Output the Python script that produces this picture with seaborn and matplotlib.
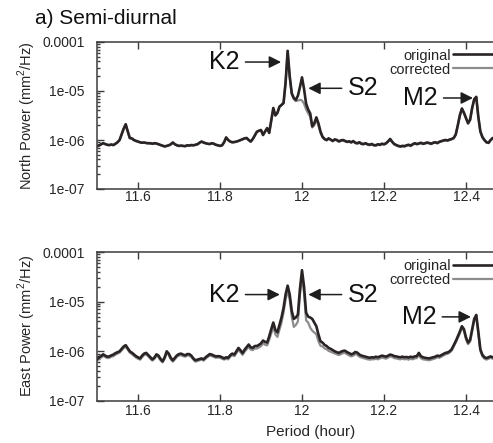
import numpy as np
import matplotlib
matplotlib.use("Agg")
import matplotlib.pyplot as plt
from matplotlib.ticker import LogLocator, NullLocator, NullFormatter
from matplotlib.lines import Line2D
import seaborn as sns

# ---------------------------------------------------------------------------
# Spectral power (units of 1e-7 mm^2/Hz), sampled every 0.005 h from 11.500 h
# ---------------------------------------------------------------------------
POWER_UNIT = 1e-7
period_start = 11.5
period_step = 0.005

north_original = [
    7.4, 7.8, 8.2, 8.6, 8.3, 8.0, 7.9, 8.1, 7.9, 8.4,
    9.0, 10.0, 13.0, 17.0, 21.0, 15.0, 11.0, 10.8, 10.0, 9.6,
    9.3, 9.0, 8.8, 8.9, 8.7, 8.6, 8.6, 8.4, 8.6, 8.5,
    8.2, 7.9, 7.6, 7.4, 7.6, 7.8, 8.2, 8.9, 8.2, 7.8,
    7.6, 7.7, 7.6, 7.5, 7.8, 7.7, 7.9, 7.8, 8.0, 8.2,
    8.8, 9.3, 8.9, 8.6, 8.4, 8.3, 8.6, 8.4, 8.0, 7.8,
    7.6, 7.8, 9.0, 11.3, 10.0, 9.3, 9.0, 9.1, 9.3, 9.6,
    10.0, 10.4, 10.8, 11.0, 10.0, 9.3, 10.5, 12.5, 14.8, 15.5,
    16.0, 12.7, 15.0, 17.5, 14.0, 25.0, 45.0, 32.0, 36.0, 48.0,
    52.0, 57.0, 150.0, 660.0, 200.0, 90.0, 72.0, 66.0, 80.0, 120.0,
    190.0, 110.0, 55.0, 42.0, 35.0, 19.0, 22.0, 29.0, 22.0, 15.0,
    11.7, 10.5, 10.0, 10.8, 10.2, 9.6, 10.3, 10.0, 9.4, 9.8,
    10.0, 9.6, 9.2, 9.4, 9.0, 9.5, 8.8, 8.6, 9.0, 8.4,
    8.3, 8.6, 8.2, 8.0, 8.3, 7.9, 7.8, 8.2, 8.0, 8.4,
    8.2, 8.6, 9.4, 10.5, 9.2, 8.3, 7.9, 7.6, 7.4, 7.6,
    7.5, 7.8, 8.0, 7.7, 8.2, 8.6, 8.3, 8.5, 8.8, 8.4,
    8.6, 8.9, 8.7, 8.4, 8.8, 9.0, 8.7, 9.2, 9.5, 9.8,
    10.0, 9.8, 10.2, 10.5, 11.0, 13.0, 20.0, 32.0, 44.0, 36.0,
    28.0, 22.0, 26.0, 45.0, 68.0, 76.0, 30.0, 15.0, 11.5, 10.0,
    9.0, 8.8, 10.0, 11.0, 11.0,
]

north_corrected = [
    7.3, 7.7, 8.1, 8.5, 8.2, 7.9, 7.8, 8.0, 7.8, 8.3,
    8.9, 9.9, 12.8, 16.8, 20.6, 14.8, 10.9, 10.6, 9.9, 9.5,
    9.2, 8.9, 8.7, 8.8, 8.6, 8.5, 8.5, 8.3, 8.5, 8.4,
    8.1, 7.8, 7.5, 7.3, 7.5, 7.7, 8.1, 8.8, 8.1, 7.7,
    7.5, 7.6, 7.5, 7.4, 7.7, 7.6, 7.8, 7.7, 7.9, 8.1,
    8.7, 9.2, 8.8, 8.5, 8.3, 8.2, 8.5, 8.3, 7.9, 7.7,
    7.5, 7.7, 8.9, 11.1, 9.9, 9.2, 8.9, 9.0, 9.2, 9.5,
    9.9, 10.3, 10.7, 10.9, 9.9, 9.2, 10.4, 12.3, 14.5, 15.2,
    15.7, 12.5, 14.7, 17.2, 13.8, 24.5, 44.0, 31.0, 35.0, 47.0,
    51.0, 56.0, 148.0, 650.0, 195.0, 85.0, 68.0, 62.0, 64.0, 66.0,
    64.0, 55.0, 42.0, 35.0, 30.0, 18.0, 20.0, 26.0, 20.0, 14.0,
    11.3, 10.3, 9.8, 10.6, 10.0, 9.4, 10.1, 9.8, 9.2, 9.6,
    9.8, 9.4, 9.0, 9.2, 8.8, 9.3, 8.6, 8.4, 8.8, 8.2,
    8.1, 8.4, 8.0, 7.8, 8.1, 7.7, 7.6, 8.0, 7.8, 8.2,
    8.0, 8.4, 9.2, 10.3, 9.0, 8.1, 7.7, 7.4, 7.2, 7.4,
    7.3, 7.6, 7.8, 7.5, 8.0, 8.4, 8.1, 8.3, 8.6, 8.2,
    8.4, 8.7, 8.5, 8.2, 8.6, 8.8, 8.5, 9.0, 9.3, 9.6,
    9.8, 9.6, 10.0, 10.3, 10.8, 12.7, 19.6, 31.0, 43.0, 35.0,
    27.5, 21.5, 25.5, 44.0, 67.0, 75.0, 29.5, 14.7, 11.3, 9.8,
    8.8, 8.6, 9.8, 10.8, 10.8,
]

east_original = [
    6.9, 7.6, 8.0, 8.7, 8.2, 7.8, 7.9, 8.3, 8.6, 9.2,
    9.6, 10.0, 11.2, 12.5, 13.3, 11.5, 10.0, 9.4, 8.7, 8.0,
    7.6, 7.2, 8.2, 9.0, 9.3, 8.4, 7.6, 6.9, 7.5, 8.7,
    8.2, 7.0, 6.3, 7.6, 10.0, 9.0, 7.4, 6.6, 7.4, 8.3,
    8.8, 9.0, 8.6, 8.3, 8.8, 8.8, 8.2, 7.2, 6.6, 6.8,
    7.0, 7.2, 6.9, 7.6, 8.2, 8.8, 8.6, 8.2, 7.9, 8.0,
    7.9, 7.6, 7.2, 7.6, 7.4, 8.4, 9.0, 8.6, 10.0, 11.7,
    10.5, 9.2, 10.8, 12.2, 13.7, 12.0, 11.8, 12.8, 12.8, 13.5,
    14.5, 16.5, 15.5, 15.0, 20.0, 28.0, 38.0, 27.0, 24.0, 34.0,
    48.0, 75.0, 140.0, 210.0, 140.0, 65.0, 45.0, 48.0, 55.0, 180.0,
    430.0, 200.0, 60.0, 50.0, 48.0, 45.0, 38.0, 32.0, 22.0, 16.0,
    15.0, 13.5, 12.8, 11.7, 11.2, 10.6, 10.0, 9.6, 9.3, 9.8,
    10.2, 10.3, 9.6, 9.2, 8.7, 9.0, 9.7, 9.4, 8.6, 8.2,
    8.0, 7.8, 7.6, 7.4, 7.6, 7.5, 7.8, 7.6, 7.9, 8.2,
    8.0, 7.8, 8.2, 8.6, 8.4, 8.0, 7.9, 7.7, 7.6, 7.8,
    7.6, 7.7, 7.5, 7.8, 7.6, 7.9, 8.0, 9.3, 8.0, 7.6,
    7.4, 7.3, 7.2, 7.4, 7.6, 7.8, 8.2, 8.0, 8.4, 8.8,
    9.3, 9.5, 10.0, 11.0, 13.3, 16.0, 20.0, 25.0, 32.0, 28.0,
    19.0, 15.0, 17.0, 28.0, 45.0, 54.0, 25.0, 11.0, 8.5, 7.6,
    7.3, 7.6, 7.9, 7.6, 7.8,
]

east_corrected = [
    6.5, 7.1, 7.5, 8.1, 7.7, 7.3, 7.4, 7.8, 8.0, 8.6,
    9.0, 9.4, 10.4, 11.6, 12.4, 10.8, 9.4, 8.8, 8.1, 7.5,
    7.1, 6.8, 7.6, 8.4, 8.7, 7.9, 7.1, 6.5, 7.0, 8.1,
    7.6, 6.6, 6.0, 7.1, 9.3, 8.4, 6.9, 6.2, 6.9, 7.8,
    8.2, 8.4, 8.0, 7.8, 8.2, 8.2, 7.7, 6.8, 6.2, 6.4,
    6.6, 6.8, 6.5, 7.1, 7.7, 8.2, 8.0, 7.7, 7.4, 7.5,
    7.4, 7.1, 6.8, 7.1, 6.9, 7.8, 8.3, 8.0, 9.2, 10.6,
    9.6, 8.5, 9.8, 11.0, 12.3, 10.8, 10.6, 11.4, 11.4, 12.0,
    12.8, 14.5, 13.6, 13.2, 17.0, 23.0, 31.0, 22.0, 19.5, 27.0,
    38.0, 60.0, 110.0, 170.0, 110.0, 50.0, 31.0, 34.0, 40.0, 135.0,
    320.0, 150.0, 42.0, 38.0, 30.0, 26.0, 24.0, 22.0, 16.0, 13.0,
    12.5, 11.5, 11.0, 10.2, 9.8, 9.4, 9.0, 8.7, 8.4, 8.8,
    9.2, 9.3, 8.7, 8.3, 7.9, 8.2, 8.8, 8.5, 7.8, 7.5,
    7.3, 7.1, 6.9, 6.8, 6.9, 6.9, 7.1, 6.9, 7.2, 7.5,
    7.3, 7.1, 7.5, 7.9, 7.7, 7.3, 7.2, 7.0, 6.9, 7.1,
    6.9, 7.0, 6.8, 7.1, 6.9, 7.2, 7.3, 8.5, 7.3, 6.9,
    6.8, 6.7, 6.6, 6.8, 7.0, 7.2, 7.6, 7.4, 7.8, 8.2,
    8.7, 8.9, 9.4, 10.3, 12.4, 15.0, 18.6, 23.0, 29.5, 25.8,
    17.5, 13.9, 15.7, 25.8, 41.5, 49.5, 23.0, 10.2, 7.9, 7.1,
    6.8, 7.1, 7.4, 7.1, 7.3,
]

series_labels = ["original", "corrected"]
x_ticks = [11.6, 11.8, 12.0, 12.2, 12.4]
x_tick_labels = ["11.6", "11.8", "12", "12.2", "12.4"]
y_ticks = [1e-7, 1e-6, 1e-5, 1e-4]
y_tick_labels = ["1e-07", "1e-06", "1e-05", "0.0001"]

period = period_start + period_step * np.arange(len(north_original))

# ---------------------------------------------------------------------------
sns.set_style("ticks")
plt.rcParams["font.family"] = ["Liberation Sans", "DejaVu Sans"]
plt.rcParams["mathtext.fontset"] = "custom"
plt.rcParams["mathtext.rm"] = "Liberation Sans"

W, H = 493, 443
fig = plt.figure(figsize=(W / 100, H / 100), dpi=100)
ax_n = fig.add_axes([97 / W, 1 - 189 / H, 396 / W, 147 / H])
ax_e = fig.add_axes([97 / W, 1 - 401 / H, 396 / W, 149 / H])

COL_ORIG = "#2a2323"
COL_CORR = "#8c8c8c"
SPINE = "#3c3c3c"
TXT = "#262626"

panels = [
    (ax_n, north_original, north_corrected, "North Power (mm$^2$/Hz)", 1.0),
    (ax_e, east_original, east_corrected, "East Power (mm$^2$/Hz)", 2.5),
]

for ax, orig, corr, ylab, xpad in panels:
    ax.set_yscale("log")
    sns.lineplot(x=period, y=np.array(corr) * POWER_UNIT, ax=ax, color=COL_CORR,
                 lw=1.6, estimator=None, sort=False)
    sns.lineplot(x=period, y=np.array(orig) * POWER_UNIT, ax=ax, color=COL_ORIG,
                 lw=1.9, estimator=None, sort=False)
    ax.set_xlim(11.5, 11.5 + 396 / 410)
    ax.set_ylim(1e-7, 1e-4)
    ax.set_xticks(x_ticks)
    ax.set_xticklabels(x_tick_labels)
    ax.set_yticks(y_ticks)
    ax.set_yticklabels(y_tick_labels)
    ax.yaxis.set_minor_locator(LogLocator(base=10, subs=np.arange(2, 10)))
    ax.yaxis.set_minor_formatter(NullFormatter())
    ax.xaxis.set_minor_locator(NullLocator())
    ax.tick_params(which="both", direction="in", top=True, right=False,
                   color=SPINE, width=1.0, labelcolor=TXT, labelsize=10)
    ax.tick_params(which="major", length=5)
    ax.tick_params(which="minor", length=2.5)
    ax.tick_params(axis="y", which="major", pad=9)
    ax.tick_params(axis="x", which="major", pad=xpad)
    ax.spines["right"].set_visible(False)
    for s in ("left", "top", "bottom"):
        ax.spines[s].set_color(SPINE)
        ax.spines[s].set_linewidth(1.1)
    ax.set_xlabel("")
    ax.set_ylabel("")

    handles = [Line2D([], [], color=COL_ORIG, lw=1.9),
               Line2D([], [], color=COL_CORR, lw=1.6)]
    ax.legend(handles, series_labels, loc="upper right", bbox_to_anchor=(1.02, 0.985),
              markerfirst=False, frameon=False, fontsize=10.5, handlelength=3.0,
              handletextpad=0.15, labelspacing=0.0, borderaxespad=0.1,
              borderpad=0.2)

# y-axis titles
fig.text(27 / W, 1 - 115.5 / H, panels[0][3], rotation=90, ha="center",
         va="center", fontsize=10.5, color=TXT)
fig.text(27 / W, 1 - 326 / H, panels[1][3], rotation=90, ha="center",
         va="center", fontsize=10.5, color=TXT)
fig.text(310.5 / W, 1 - 432 / H, "Period (hour)", ha="center", va="center",
         fontsize=11, color=TXT)
fig.text(35 / W, 1 - 19 / H, "a) Semi-diurnal", ha="left", va="center",
         fontsize=15, color="#111111")

# tidal constituent labels
arrow = dict(arrowstyle="-|>,head_length=0.6,head_width=0.3", color="#1e1e1e",
             lw=1.1, mutation_scale=12, shrinkA=2, shrinkB=0)
ann = dict(ha="center", va="center", fontsize=18, color="#111111",
           arrowprops=arrow)

ax_n.annotate("K2", xy=(11.949, 3.9e-5), xytext=(11.81, 3.9e-5), **ann)
ax_n.annotate("S2", xy=(12.0154, 1.135e-5), xytext=(12.149, 1.135e-5), **ann)
ax_n.annotate("M2", xy=(12.417, 7.2e-6), xytext=(12.288, 7.2e-6), **ann)

ax_e.annotate("K2", xy=(11.946, 1.39e-5), xytext=(11.81, 1.39e-5), **ann)
ax_e.annotate("S2", xy=(12.0154, 1.39e-5), xytext=(12.149, 1.39e-5), **ann)
ax_e.annotate("M2", xy=(12.412, 4.94e-6), xytext=(12.285, 4.94e-6), **ann)

fig.savefig("out.png", dpi=100)
